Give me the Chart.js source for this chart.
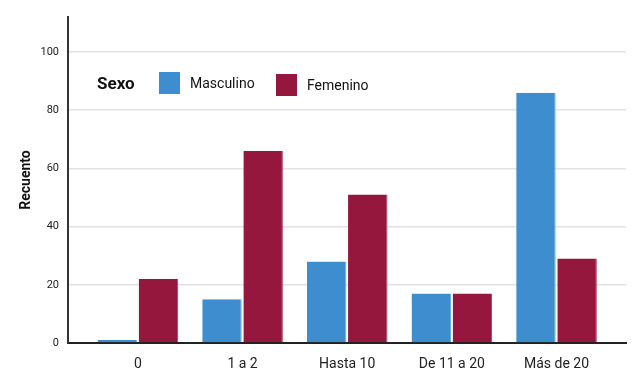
<!DOCTYPE html>
<html>
<head>
<meta charset="utf-8">
<script src="https://cdn.jsdelivr.net/npm/chart.js@4"></script>
<style>
  html, body { margin: 0; padding: 0; background: #fff; }
  #wrap { width: 640px; height: 375px; }
</style>
</head>
<body>
<div id="wrap"><canvas id="recuentoChart" width="640" height="375"></canvas></div>
<script>
// categories and counts
const categories = ["0", "1 a 2", "Hasta 10", "De 11 a 20", "Más de 20"];
const masculino = [1, 15, 28, 17, 86];
const femenino = [22, 66, 51, 17, 29];
const legendTitle = "Sexo";
const yTicks = [0, 20, 40, 60, 80, 100];

// legend drawn inside the plot, left of the items is the title "Sexo"
const insideLegend = {
  id: "insideLegend",
  afterDraw(chart) {
    const ctx = chart.ctx;
    const a = chart.chartArea;
    ctx.save();
    ctx.textBaseline = "middle";
    ctx.fillStyle = "#111";
    ctx.font = "bold 17px Roboto";
    ctx.fillText(legendTitle, a.left + 29, a.top + 68);

    let items = chart.data.datasets.map((ds, i) => ({
      label: ds.label,
      color: ds.backgroundColor,
      x: a.left + (i === 0 ? 91 : 208),
      y: a.top + (i === 0 ? 55 : 57)
    }));
    items.forEach((it) => {
      ctx.fillStyle = it.color;
      ctx.fillRect(it.x, it.y, 21, 22);
      ctx.fillStyle = "#111";
      ctx.font = "14px Roboto";
      ctx.fillText(it.label, it.x + 31, it.y + 12);
    });
    ctx.restore();
  }
};

// bars sit on a numeric x axis (index of category) so the groups can be
// inset from the y axis like in the original
const toPoints = (arr) => arr.map((v, i) => ({ x: i, y: v }));

const ctx = document.getElementById("recuentoChart").getContext("2d");
const recuentoChart = new Chart(ctx, {
  type: "bar",
  data: {
    labels: categories,
    datasets: [
      {
        label: "Masculino",
        data: toPoints(masculino),
        backgroundColor: "#3e8ecf",
        borderColor: "#68abe0",
        borderWidth: { right: 1 }
      },
      {
        label: "Femenino",
        data: toPoints(femenino),
        backgroundColor: "#95173d",
        borderColor: "#a8375a",
        borderWidth: { right: 1 }
      }
    ]
  },
  options: {
    responsive: false,
    animation: false,
    categoryPercentage: 0.786,
    barPercentage: 0.96,
    layout: { padding: { top: 17, right: 14, left: 18, bottom: 0 } },
    plugins: {
      legend: { display: false },
      tooltip: { enabled: false }
    },
    scales: {
      x: {
        type: "linear",
        min: -0.668,
        max: 4.664,
        offset: false,
        afterBuildTicks: (s) => {
          s.ticks = categories.map((c, i) => ({ value: i }));
        },
        grid: { display: false },
        border: { display: true, color: "#222", width: 2 },
        ticks: {
          color: "#222",
          font: { family: "Roboto", size: 14 },
          padding: 5,
          callback: (v) => categories[v]
        },
        afterFit: (s) => { s.height = 32; }
      },
      y: {
        min: 0,
        max: 112,
        afterBuildTicks: (s) => {
          s.ticks = yTicks.map((v) => ({ value: v }));
        },
        grid: { color: "#e2e2e2", lineWidth: 1.5, drawTicks: false },
        border: { display: true, color: "#333", width: 2 },
        ticks: {
          color: "#222",
          font: { family: "Roboto", size: 11 },
          padding: 9
        },
        title: {
          display: true,
          text: "Recuento",
          color: "#111",
          font: { family: "Roboto", size: 14, weight: "bold" },
          padding: { top: 0, bottom: 0 }
        },
        afterFit: (s) => { s.width = 50; }
      }
    }
  },
  plugins: [insideLegend]
});
</script>
</body>
</html>
